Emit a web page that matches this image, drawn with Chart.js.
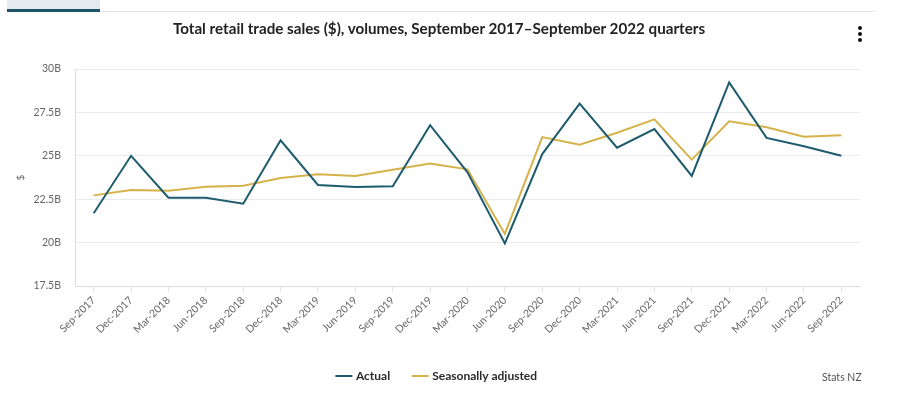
<!DOCTYPE html>
<html>
<head>
<meta charset="utf-8">
<script src="https://cdn.jsdelivr.net/npm/chart.js@4/dist/chart.umd.min.js"></script>
<style>
  html, body { margin:0; padding:0; background:#fff; }
  #wrap { position:relative; width:900px; height:394px; overflow:hidden; font-family: Lato, "Liberation Sans", sans-serif; }
  #c { position:absolute; left:0; top:0; }
  #tab { position:absolute; left:7px; top:0; width:93px; height:9px; background:#e3ebee; border-bottom:3px solid #1f5468; }
  #rule { position:absolute; left:100px; top:11px; width:775px; height:1px; background:#e2e4e6; }
  #title { position:absolute; left:0; width:878px; top:19px; text-align:center; font-weight:bold; font-size:15.2px; color:#222; }
  .dot { position:absolute; left:858px; width:4px; height:4px; border-radius:2px; background:#111; }
  #credit { position:absolute; left:822px; top:371px; font-size:10.5px; color:#555; }
</style>
</head>
<body>
<div id="wrap">
  <canvas id="c" width="900" height="394"></canvas>
  <div id="tab"></div>
  <div id="rule"></div>
  <div id="title">Total retail trade sales ($), volumes, September 2017–September 2022 quarters</div>
  <div class="dot" style="top:26px"></div>
  <div class="dot" style="top:32px"></div>
  <div class="dot" style="top:38px"></div>
  <div id="credit">Stats NZ</div>
</div>
<script>
const categories = ["Sep-2017","Dec-2017","Mar-2018","Jun-2018","Sep-2018","Dec-2018","Mar-2019","Jun-2019","Sep-2019","Dec-2019","Mar-2020","Jun-2020","Sep-2020","Dec-2020","Mar-2021","Jun-2021","Sep-2021","Dec-2021","Mar-2022","Jun-2022","Sep-2022"];
const actual = [21.69, 25.0, 22.59, 22.58, 22.24, 25.89, 23.32, 23.2, 23.24, 26.76, 24.05, 19.95, 25.1, 28.0, 25.47, 26.54, 23.84, 29.23, 26.03, 25.55, 25.0];
const seasonallyAdjusted = [22.72, 23.03, 22.99, 23.22, 23.28, 23.72, 23.93, 23.84, 24.2, 24.55, 24.22, 20.5, 26.08, 25.64, 26.33, 27.1, 24.78, 26.99, 26.64, 26.1, 26.18];
const yTicks = [17.5, 20, 22.5, 25, 27.5, 30];

const teal = "#1d5b6d";
const gold = "#d5b24a";
const tickFont = { family: "Lato, 'Liberation Sans', sans-serif", size: 10.5 };

new Chart(document.getElementById("c"), {
  type: "line",
  data: {
    labels: categories,
    datasets: [
      { label: "Actual", data: actual, borderColor: teal, backgroundColor: teal, borderWidth: 2, pointRadius: 0, tension: 0 },
      { label: "Seasonally adjusted", data: seasonallyAdjusted, borderColor: gold, backgroundColor: gold, borderWidth: 2, pointRadius: 0, tension: 0 }
    ]
  },
  options: {
    responsive: false,
    animation: false,
    devicePixelRatio: 1,
    layout: { padding: { top: 69, left: 15, right: 40, bottom: 2 } },
    plugins: {
      title: { display: false },
      tooltip: { enabled: false },
      legend: {
        position: "bottom",
        labels: {
          usePointStyle: true,
          pointStyle: "line",
          boxWidth: 16,
          padding: 24,
          color: "#2a2a2a",
          font: { family: "Lato, 'Liberation Sans', sans-serif", size: 12, weight: "bold" }
        }
      }
    },
    scales: {
      x: {
        offset: true,
        grid: { drawOnChartArea: false, drawTicks: true, tickLength: 6, color: "#dfe4ea" },
        border: { color: "#d6dde6" },
        ticks: { minRotation: 45, maxRotation: 45, autoSkip: false, color: "#666", font: tickFont, padding: 2 },
        afterFit: (s) => { s.height = 60; }
      },
      y: {
        min: 17.5, max: 30,
        afterBuildTicks: (s) => { s.ticks = yTicks.map(v => ({ value: v })); },
        grid: { color: "#e8ebef", drawTicks: false },
        border: { color: "#d6dde6" },
        ticks: { color: "#666", font: tickFont, padding: 14, callback: (v) => v + "B" },
        title: { display: true, text: "$", color: "#666", font: { family: "Lato, 'Liberation Sans', sans-serif", size: 10 }, padding: { top: 0, bottom: 0 } },
        afterFit: (s) => { s.width = 60; }
      }
    }
  }
});
</script>
</body>
</html>
